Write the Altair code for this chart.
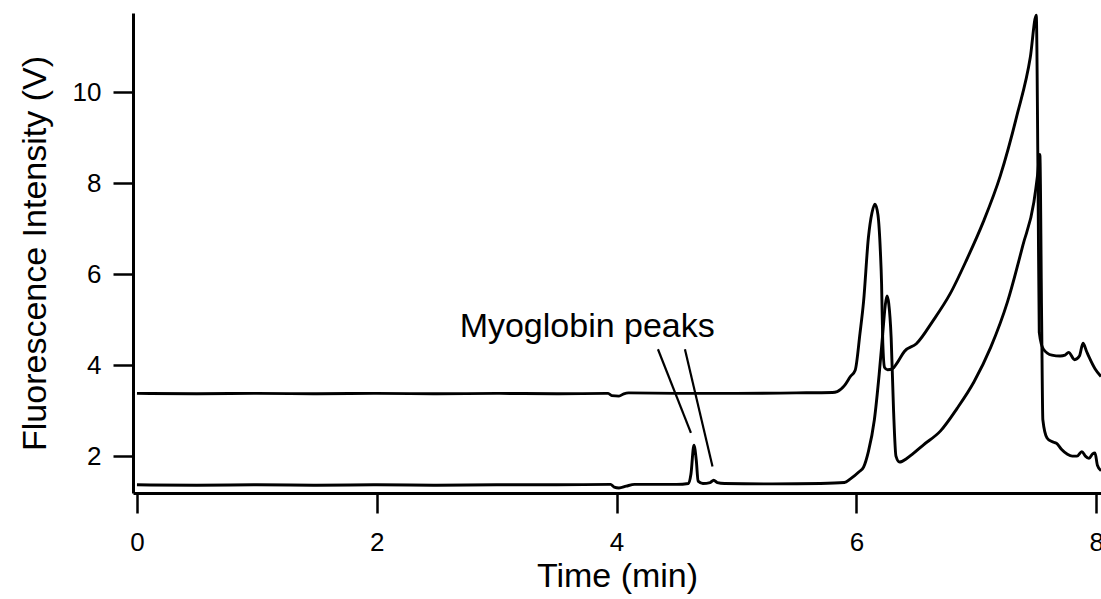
import altair as alt
import pandas as pd

# Upper trace: time (min) and fluorescence (V)
upper_t = [0.0, 0.5, 1.0, 1.5, 2.0, 2.5, 3.0, 3.5, 3.93, 3.96, 4.02, 4.06, 4.1, 4.5, 5.0,
           5.5, 5.8, 5.84, 5.9, 5.95, 5.99, 6.03, 6.06, 6.1, 6.13, 6.155, 6.18, 6.2, 6.21,
           6.22, 6.235, 6.26, 6.3, 6.34, 6.4, 6.5, 6.64, 6.78, 6.92, 7.06, 7.2, 7.34, 7.45,
           7.5, 7.515, 7.525, 7.56, 7.63, 7.7, 7.74, 7.77, 7.82, 7.86, 7.89, 7.92, 7.94,
           7.99, 8.04]
upper_v = [3.38, 3.37, 3.38, 3.37, 3.38, 3.37, 3.38, 3.37, 3.38, 3.33, 3.32, 3.37, 3.39, 3.38, 3.38,
           3.39, 3.40, 3.42, 3.55, 3.75, 3.89, 4.7, 5.4, 6.8, 7.35, 7.54, 7.3, 6.5, 5.8,
           4.5, 3.95, 3.9, 3.92, 4.05, 4.3, 4.47, 4.98, 5.56, 6.32, 7.16, 8.16, 9.5, 10.76,
           11.69, 8.0, 4.72, 4.35, 4.22, 4.2, 4.22, 4.28, 4.12, 4.2, 4.48, 4.3, 4.18,
           3.92, 3.75]

# Lower trace
lower_t = [0.0, 0.5, 1.0, 1.5, 2.0, 2.5, 3.0, 3.5, 3.95, 3.98, 4.02, 4.08, 4.15, 4.5, 4.6,
           4.62, 4.645, 4.665, 4.68, 4.72, 4.78, 4.81, 4.84, 4.9, 5.3, 5.7, 5.9, 5.95, 6.02,
           6.06, 6.1, 6.15, 6.19, 6.22, 6.24, 6.255, 6.27, 6.29, 6.31, 6.33, 6.36, 6.42,
           6.47, 6.56, 6.7, 6.84, 6.98, 7.12, 7.26, 7.39, 7.48, 7.51, 7.53, 7.545, 7.555,
           7.59, 7.63, 7.67, 7.71, 7.76, 7.8, 7.84, 7.88, 7.91, 7.94, 7.97, 7.99, 8.01, 8.04]
lower_v = [1.37, 1.36, 1.37, 1.36, 1.37, 1.36, 1.37, 1.37, 1.38, 1.32, 1.30, 1.34, 1.38, 1.38, 1.40,
           1.6, 2.24, 1.9, 1.45, 1.40, 1.42, 1.47, 1.42, 1.40, 1.39, 1.40, 1.42, 1.5, 1.65,
           1.76, 2.1, 2.8, 3.8, 4.7, 5.3, 5.52, 5.35, 4.6, 3.0, 2.0, 1.87, 1.95,
           2.05, 2.25, 2.55, 3.05, 3.63, 4.39, 5.39, 6.65, 7.58, 8.16, 8.63, 5.0, 2.8,
           2.4, 2.32, 2.28, 2.15, 2.04, 2.0, 2.0, 2.1, 2.0, 1.95, 2.05, 2.07, 1.8, 1.68]

# Label and the two pointer lines marking the myoglobin peaks
label_text = ["Myoglobin peaks"]
label_t = [3.755]
label_v = [4.615]
pointer_t = [4.345, 4.57]
pointer_v = [4.35, 4.35]
pointer_t2 = [4.62, 4.80]
pointer_v2 = [2.51, 1.77]

FONT = "Liberation Sans"

traces = pd.concat([
    pd.DataFrame({"t": upper_t, "v": upper_v, "series": "upper", "order": range(len(upper_t))}),
    pd.DataFrame({"t": lower_t, "v": lower_v, "series": "lower", "order": range(len(lower_t))}),
])
labels = pd.DataFrame({"t": label_t, "v": label_v, "text": label_text})
pointers = pd.DataFrame({"t": pointer_t, "v": pointer_v, "t2": pointer_t2, "v2": pointer_v2})

x_scale = alt.Scale(domain=[-0.033, 8.04], nice=False, zero=False)
y_scale = alt.Scale(domain=[1.19, 11.74], nice=False, zero=False)

x_axis = alt.Axis(values=[0, 2, 4, 6, 8], title="Time (min)", grid=False,
                  tickSize=20, labelPadding=16, titlePadding=4, format="d")
y_axis = alt.Axis(values=[2, 4, 6, 8, 10], title="Fluorescence Intensity (V)", grid=False,
                  tickSize=20, labelPadding=12, titlePadding=20, format="d")

lines = alt.Chart(traces).mark_line(color="black", strokeWidth=2.9, clip=True,
                                    interpolate="monotone", strokeJoin="round").encode(
    x=alt.X("t:Q", scale=x_scale, axis=x_axis),
    y=alt.Y("v:Q", scale=y_scale, axis=y_axis),
    detail="series:N",
    order="order:Q",
)

rules = alt.Chart(pointers).mark_rule(color="black", strokeWidth=2.2).encode(
    x="t:Q", y="v:Q", x2="t2:Q", y2="v2:Q",
)

text = alt.Chart(labels).mark_text(font=FONT, fontSize=34, align="center",
                                   baseline="alphabetic", color="black").encode(
    x="t:Q", y="v:Q", text="text:N",
)

chart = (lines + rules + text).properties(
    width=968, height=480,
    autosize=alt.AutoSizeParams(type="none"),
    padding={"left": 133, "top": 13, "right": 0, "bottom": 106},
    background="white",
).configure_view(stroke=None).configure_axis(
    domainColor="black", domainWidth=3, tickColor="black", tickWidth=2.5,
    labelFont=FONT, labelFontSize=26, labelColor="black",
    titleFont=FONT, titleFontSize=34, titleFontWeight="normal", titleColor="black",
)

chart.save("out.html", embed_options={"renderer": "svg", "actions": False})
